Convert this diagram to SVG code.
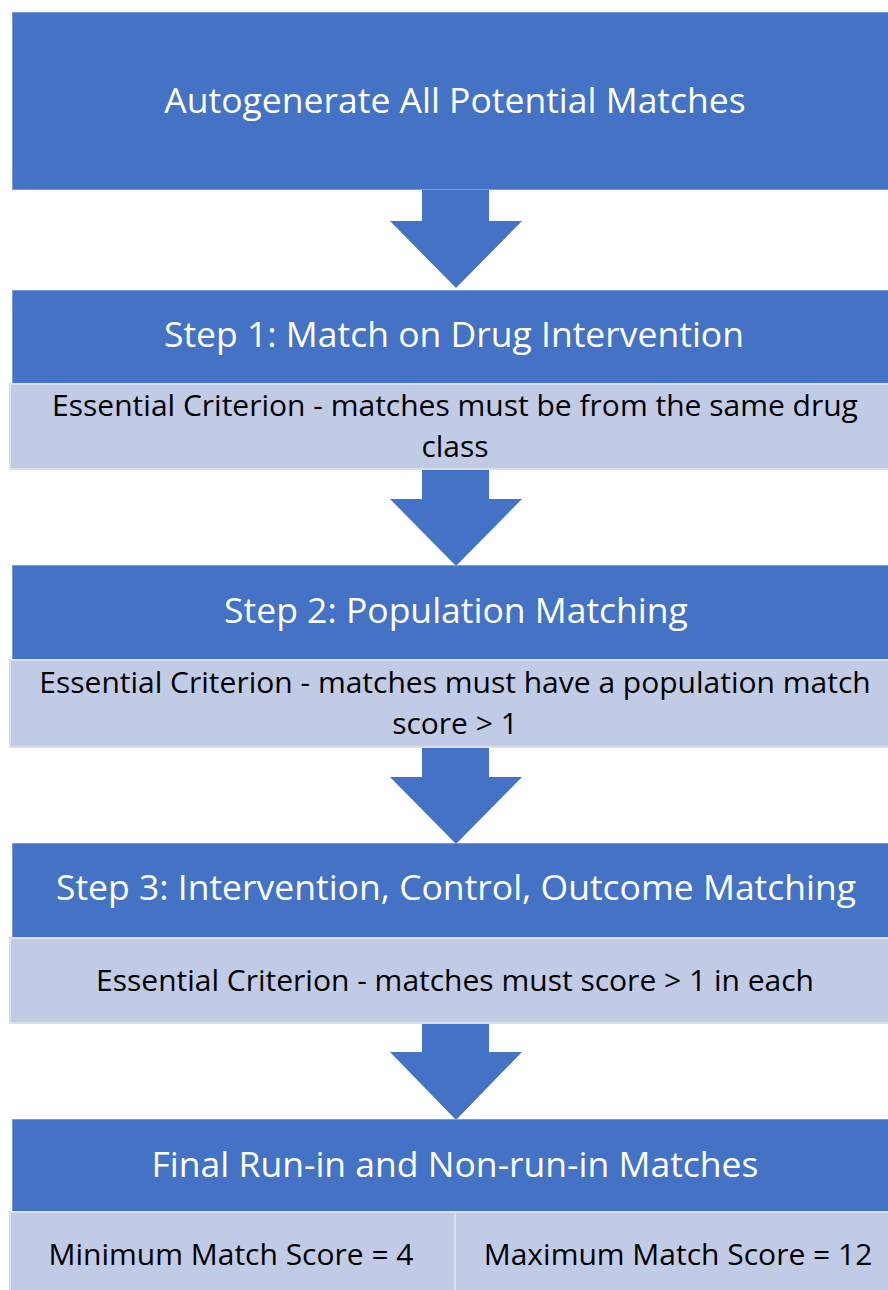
<svg xmlns="http://www.w3.org/2000/svg" width="888" height="1290" viewBox="0 0 888 1290">
  <style>
    .head { fill: #4472C4; stroke: #7C9BD6; stroke-width: 1; }
    .body { fill: #C1CBE6; stroke: #D9DFF0; stroke-width: 2; }
    .arrow { fill: #4472C4; }
    .t-head { font-family: "Open Sans", "Liberation Sans", sans-serif; font-size: 35.5px; fill: #FFFFFF; text-anchor: middle; }
    .t-body { font-family: "Open Sans", "Liberation Sans", sans-serif; font-size: 30px; fill: #000000; text-anchor: middle; }
  </style>

  <!-- Block arrows between stages -->
  <g id="connectors">
    <path class="arrow" d="M422,189 L489,189 L489,221 L522,221 L456,288 L390,221 L422,221 Z"/>
    <path class="arrow" d="M422,469 L489,469 L489,499 L522,499 L456,566 L390,499 L422,499 Z"/>
    <path class="arrow" d="M422,747 L489,747 L489,777 L522,777 L456,844 L390,777 L422,777 Z"/>
    <path class="arrow" d="M422,1023 L489,1023 L489,1052 L522,1052 L456,1120 L390,1052 L422,1052 Z"/>
  </g>

  <g id="node-autogenerate">
    <rect class="head" x="12.5" y="12.5" width="890" height="177"/>
    <text class="t-head" x="455" y="113">Autogenerate All Potential Matches</text>
  </g>

  <g id="node-step1">
    <rect class="head" x="12.5" y="290.5" width="890" height="94"/>
    <rect class="body" x="10" y="384" width="892" height="85"/>
    <text class="t-head" x="454" y="347">Step 1: Match on Drug Intervention</text>
    <text class="t-body" x="455" y="416">Essential Criterion - matches must be from the same drug</text>
    <text class="t-body" x="455" y="457">class</text>
  </g>

  <g id="node-step2">
    <rect class="head" x="12.5" y="565.5" width="890" height="95"/>
    <rect class="body" x="10" y="660" width="892" height="87"/>
    <text class="t-head" x="456" y="623">Step 2: Population Matching</text>
    <text class="t-body" x="455" y="693">Essential Criterion - matches must have a population match</text>
    <text class="t-body" x="455" y="734">score &gt; 1</text>
  </g>

  <g id="node-step3">
    <rect class="head" x="12.5" y="843.5" width="890" height="95"/>
    <rect class="body" x="10" y="938" width="892" height="85"/>
    <text class="t-head" x="456" y="900">Step 3: Intervention, Control, Outcome Matching</text>
    <text class="t-body" x="455" y="991">Essential Criterion - matches must score &gt; 1 in each</text>
  </g>

  <g id="node-final">
    <rect class="head" x="12.5" y="1119.5" width="890" height="93"/>
    <rect class="body" x="10" y="1212" width="445" height="80"/>
    <rect class="body" x="455" y="1212" width="447" height="80"/>
    <text class="t-head" x="455" y="1177">Final Run-in and Non-run-in Matches</text>
    <text class="t-body" x="231" y="1265">Minimum Match Score = 4</text>
    <text class="t-body" x="678" y="1265">Maximum Match Score = 12</text>
  </g>
</svg>
